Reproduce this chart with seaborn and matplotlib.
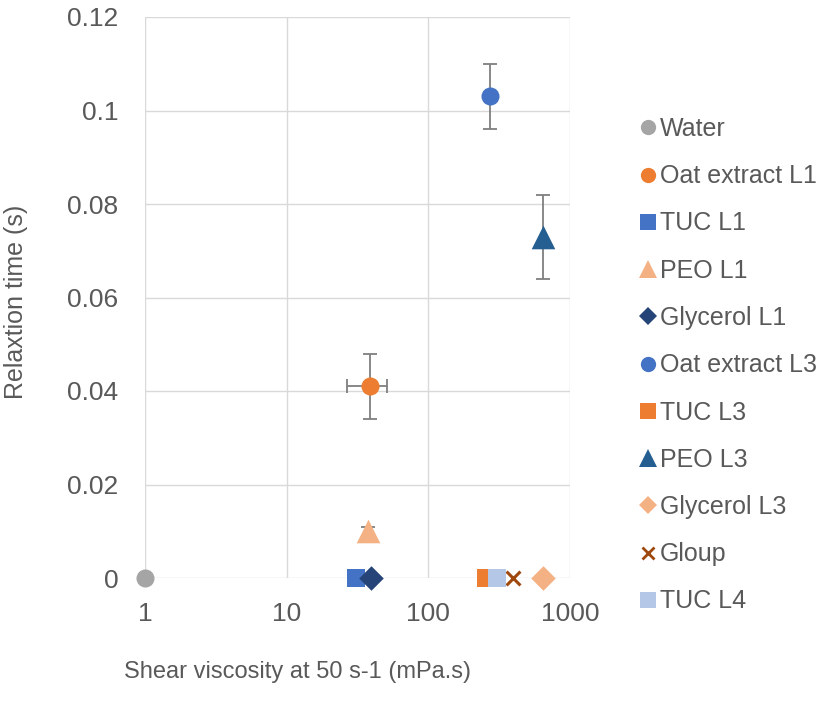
import matplotlib
matplotlib.use("Agg")
import matplotlib.pyplot as plt
from matplotlib.lines import Line2D
from matplotlib.ticker import FuncFormatter, FixedLocator
import seaborn as sns
import pandas as pd

series = ["Water", "Oat extract L1", "TUC L1", "PEO L1", "Glycerol L1",
          "Oat extract L3", "TUC L3", "PEO L3", "Glycerol L3", "Gloup", "TUC L4"]
viscosity = [1.0, 38.7, 30.7, 37.5, 39.4, 272, 255, 645, 645, 393, 307]
relax_time = [0.0, 0.041, 0.0, 0.010, 0.0, 0.103, 0.0, 0.073, 0.0, 0.0, 0.0]
x_err = [0, 12, 0, 0, 0, 0, 0, 0, 0, 0, 0]
y_err = [0, 0.007, 0, 0.001, 0, 0.007, 0, 0.009, 0, 0, 0]
colors = ["#A5A5A5", "#ED7D31", "#4472C4", "#F4B183", "#264478",
          "#4472C4", "#ED7D31", "#255E91", "#F4B183", "#9E480E", "#B4C7E7"]
markers = ["o", "o", "s", "^", "D", "o", "s", "^", "D", "X", "s"]
x_ticks = [1, 10, 100, 1000]
y_ticks = [0, 0.02, 0.04, 0.06, 0.08, 0.1, 0.12]

df = pd.DataFrame({"series": series, "viscosity": viscosity, "relax": relax_time})

plt.rcParams["font.family"] = ["Liberation Sans", "DejaVu Sans"]
fig = plt.figure(figsize=(8.28, 7.2), dpi=100)
ax = fig.add_axes([145 / 828, 1 - 578 / 720, 425 / 828, 561 / 720])

ms = {"o": 13, "s": 13, "^": 17, "D": 12.5, "X": 10}

for xv, yv, xe, ye in zip(viscosity, relax_time, x_err, y_err):
    if xe or ye:
        ax.errorbar(xv, yv, xerr=xe if xe else None, yerr=ye if ye else None,
                    fmt="none", ecolor="#7F7F7F", elinewidth=1.3, capsize=5,
                    capthick=1.3, zorder=2)

for i, (name, mk, col) in enumerate(zip(series, markers, colors)):
    sub = df[df["series"] == name]
    if mk == "X":
        sns.scatterplot(data=sub, x="viscosity", y="relax", marker="x", color=col,
                        s=ms[mk] ** 2, linewidth=2.2, ax=ax, legend=False,
                        clip_on=False, zorder=3 + i)
    else:
        sns.scatterplot(data=sub, x="viscosity", y="relax", marker=mk, color=col,
                        s=ms[mk] ** 2, linewidth=0, edgecolor=col, ax=ax,
                        legend=False, clip_on=False, zorder=3 + i)

ax.set_xscale("log")
ax.set_xlim(1, 1000)
ax.set_ylim(0, 0.12)
ax.xaxis.set_major_locator(FixedLocator(x_ticks))
ax.xaxis.set_minor_locator(FixedLocator([]))
ax.xaxis.set_major_formatter(FuncFormatter(lambda v, p: f"{v:g}"))
ax.yaxis.set_major_locator(FixedLocator(y_ticks))
ax.yaxis.set_major_formatter(FuncFormatter(lambda v, p: f"{v:g}"))
ax.grid(True, color="#D9D9D9", linewidth=1)
ax.set_axisbelow(True)
for s in ax.spines.values():
    s.set_visible(False)
ax.tick_params(axis="x", length=0, labelsize=19, colors="#595959", pad=17)
ax.tick_params(axis="y", length=0, labelsize=19, colors="#595959", pad=19)
ax.set_xlabel("")
ax.set_ylabel("")

fig.text(298 / 828, 1 - 672 / 720, "Shear viscosity at 50 s-1 (mPa.s)",
         ha="center", va="center", fontsize=17, color="#595959")
fig.text(16 / 828, 1 - 302 / 720, "Relaxtion time (s)", ha="center", va="center",
         rotation=90, fontsize=18, color="#595959")

handles = []
for name, mk, col in zip(series, markers, colors):
    if mk == "X":
        h = Line2D([], [], marker="x", color=col, linestyle="none",
                   markersize=9, markeredgewidth=2)
    else:
        h = Line2D([], [], marker=mk, color=col, linestyle="none",
                   markersize={"o": 11, "s": 11, "^": 13, "D": 9.5}[mk],
                   markeredgewidth=0)
    handles.append(h)
fig.legend(handles, series, loc="upper left", bbox_to_anchor=(641 / 828, 1 - 117 / 720),
           frameon=False, fontsize=18, labelcolor="#595959", handlelength=0.6,
           handletextpad=0.15, labelspacing=0.93, borderaxespad=0, borderpad=0)

fig.savefig("out.png", dpi=100)
